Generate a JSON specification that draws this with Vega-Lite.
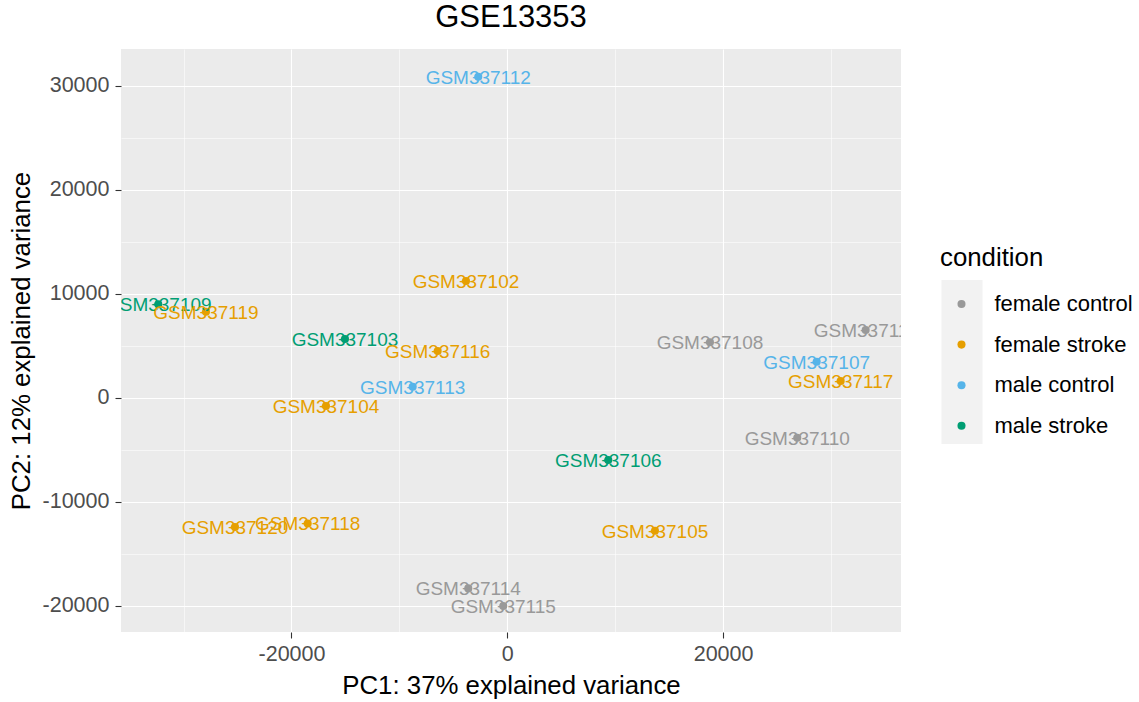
{
  "$schema": "https://vega.github.io/schema/vega-lite/v6.json",
  "width": 780,
  "height": 583,
  "autosize": {"type": "none"},
  "padding": {"left": 121, "top": 49, "right": 238, "bottom": 70},
  "background": "white",
  "title": {"text": "GSE13353", "fontSize": 31, "font": "Liberation Sans", "fontWeight": "normal", "color": "#000000", "anchor": "middle", "baseline": "middle", "offset": 0},
  "config": {
    "view": {"fill": "#EBEBEB", "stroke": null},
    "font": "Liberation Sans"
  },
  "data": {"values": [
    {"sample": "GSM337102", "condition": "female stroke", "PC1": -3828, "PC2": 11221},
    {"sample": "GSM337103", "condition": "male stroke", "PC1": -15042, "PC2": 5644},
    {"sample": "GSM337104", "condition": "female stroke", "PC1": -16803, "PC2": -798},
    {"sample": "GSM337105", "condition": "female stroke", "PC1": 13689, "PC2": -12788},
    {"sample": "GSM337106", "condition": "male stroke", "PC1": 9361, "PC2": -5990},
    {"sample": "GSM337107", "condition": "male control", "PC1": 28675, "PC2": 3462},
    {"sample": "GSM337108", "condition": "female control", "PC1": 18786, "PC2": 5327},
    {"sample": "GSM337109", "condition": "male stroke", "PC1": -32345, "PC2": 8981},
    {"sample": "GSM337110", "condition": "female control", "PC1": 26877, "PC2": -3846},
    {"sample": "GSM337111", "condition": "female control", "PC1": 33216, "PC2": 6510},
    {"sample": "GSM337112", "condition": "male control", "PC1": -2688, "PC2": 30865},
    {"sample": "GSM337113", "condition": "male control", "PC1": -8767, "PC2": 1058},
    {"sample": "GSM337114", "condition": "female control", "PC1": -3614, "PC2": -18337},
    {"sample": "GSM337115", "condition": "female control", "PC1": -371, "PC2": -20038},
    {"sample": "GSM337116", "condition": "female stroke", "PC1": -6450, "PC2": 4490},
    {"sample": "GSM337117", "condition": "female stroke", "PC1": 30899, "PC2": 1606},
    {"sample": "GSM337118", "condition": "female stroke", "PC1": -18499, "PC2": -12096},
    {"sample": "GSM337119", "condition": "female stroke", "PC1": -27924, "PC2": 8269},
    {"sample": "GSM337120", "condition": "female stroke", "PC1": -25236, "PC2": -12425}
  ]},
  "encoding": {
    "x": {
      "field": "PC1", "type": "quantitative",
      "scale": {"domain": [-35800, 36490], "nice": false, "zero": false},
      "axis": {
        "title": "PC1: 37% explained variance",
        "values": [-30000, -20000, -10000, 0, 10000, 20000, 30000],
        "labelExpr": "datum.value % 20000 === 0 ? '' + datum.value : ''",
        "grid": true, "gridColor": "#FFFFFF",
        "gridWidth": {"condition": {"test": "datum.value % 20000 !== 0", "value": 0.55}, "value": 1.1},
        "tickOpacity": {"condition": {"test": "datum.value % 20000 !== 0", "value": 0}, "value": 1},
        "domain": false, "ticks": true, "tickSize": 6, "tickColor": "#333333", "tickWidth": 1.1,
        "labelFontSize": 21.5, "labelColor": "#4D4D4D", "labelPadding": 5, "labelFlush": false, "labelOverlap": false,
        "titleFontSize": 25.8, "titleFontWeight": "normal", "titleColor": "#000000", "titleBaseline": "middle", "titleY": 53
      }
    },
    "y": {
      "field": "PC2", "type": "quantitative",
      "scale": {"domain": [-22529, 33529], "nice": false, "zero": false},
      "axis": {
        "title": "PC2: 12% explained variance",
        "values": [-20000, -15000, -10000, -5000, 0, 5000, 10000, 15000, 20000, 25000, 30000],
        "labelExpr": "datum.value % 10000 === 0 ? '' + datum.value : ''",
        "grid": true, "gridColor": "#FFFFFF",
        "gridWidth": {"condition": {"test": "datum.value % 10000 !== 0", "value": 0.55}, "value": 1.1},
        "tickOpacity": {"condition": {"test": "datum.value % 10000 !== 0", "value": 0}, "value": 1},
        "domain": false, "ticks": true, "tickSize": 6, "tickColor": "#333333", "tickWidth": 1.1,
        "labelFontSize": 21.5, "labelColor": "#4D4D4D", "labelPadding": 6, "labelOverlap": false,
        "titleFontSize": 25.8, "titleFontWeight": "normal", "titleColor": "#000000", "titleBaseline": "middle", "titleX": -100, "titleAngle": -90
      }
    }
  },
  "layer": [
    {
      "mark": {"type": "point", "filled": true, "opacity": 0, "color": "#F2F2F2"},
      "encoding": {
        "shape": {
          "datum": "keys",
          "scale": {"range": ["M-0.25,-1L0.25,-1L0.25,1L-0.25,1Z"]},
          "legend": {
            "title": null, "orient": "none", "legendX": 759, "legendY": 231, "padding": 0, "zindex": 0,
            "labelExpr": "''", "symbolSize": 26896, "symbolFillColor": "#F2F2F2", "symbolStrokeWidth": 0,
            "symbolStrokeColor": "#F2F2F2", "symbolOpacity": 1, "symbolOffset": 0, "labelOffset": 0
          }
        }
      }
    },
    {
      "mark": {"type": "point", "filled": true, "size": 65, "opacity": 1},
      "encoding": {
        "color": {
          "field": "condition", "type": "nominal",
          "scale": {"domain": ["female control", "female stroke", "male control", "male stroke"], "range": ["#999999", "#E69F00", "#56B4E9", "#009E73"]},
          "legend": {
            "title": "condition", "orient": "none", "legendX": 819, "legendY": 197, "zindex": 1,
            "padding": 0, "titleFontSize": 25.8, "titleFontWeight": "normal", "titleColor": "#000000", "titlePadding": 21.2,
            "labelFontSize": 22, "labelColor": "#000000", "symbolType": "circle", "symbolSize": 65,
            "symbolOffset": 10.5, "labelOffset": 22, "rowPadding": 18.6
          }
        }
      }
    },
    {
      "mark": {"type": "text", "fontSize": 19, "clip": true, "align": "center", "baseline": "middle", "dy": 1},
      "encoding": {
        "text": {"field": "sample"},
        "color": {"field": "condition", "type": "nominal"}
      }
    }
  ]
}
